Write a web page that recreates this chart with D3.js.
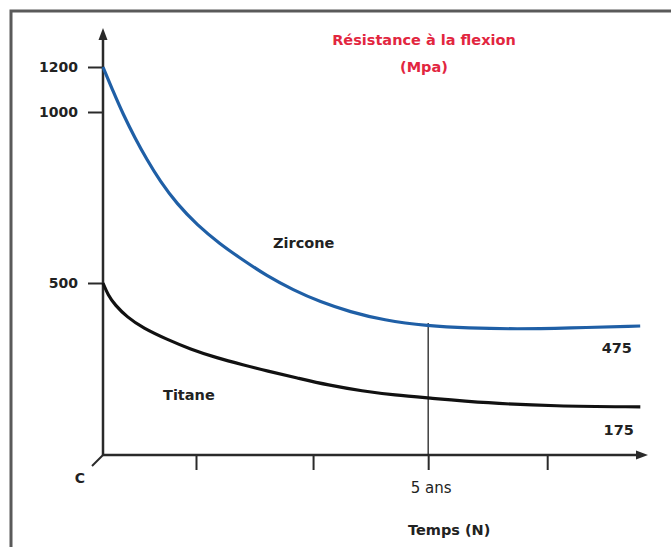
<!DOCTYPE html>
<html>
<head>
<meta charset="utf-8">
<script src="https://cdn.jsdelivr.net/npm/d3@7"></script>
<style>
  body { margin: 0; background: #fff; }
  text { font-family: "DejaVu Sans", sans-serif; }
</style>
</head>
<body>
<svg id="chart" width="671" height="547"></svg>
<script>
'use strict';

// temps en années
const zirconeYears = [0, 0.154, 0.308, 0.492, 0.677, 0.877, 1.138, 1.446, 1.8, 2.108, 2.523, 2.923, 3.338, 3.8, 4.308, 5, 5.6, 6.37, 7.14, 8.26];
const zirconeValues = [1200, 1093, 994, 924, 860, 798, 731, 670, 614, 573, 520, 480, 445, 416, 392, 375, 369, 366, 369, 375];

const titaneYears = [0, 0.077, 0.185, 0.369, 0.615, 0.985, 1.338, 1.754, 2.154, 2.523, 2.985, 3.462, 3.985, 4.492, 5, 5.908, 6.923, 8.262];
const titaneValues = [500, 465, 436, 401, 369, 336, 308, 282, 262, 244, 224, 203, 186, 174, 166, 151, 142, 140];

const yTicks = [500, 1000, 1200];
const xTicks = [1.43, 3.23, 5, 6.83];
const xTickLabels = { 5: "5 ans" };
const endLabels = ["475", "175"];

const svg = d3.select("#chart");

// l'axe vertical est compressé au dessus de 1000
const y = d3.scaleLinear()
   .domain([0, 500, 1000, 1200, 1373])
   .range([455, 283, 112, 67, 28]);

const x = d3.scaleLinear()
   .domain([0, 8.38])
   .range([103, 648]);

// cadre
svg.append("path")
   .attr("d", "M11,547 V11 H671")
   .style("fill", "none")
   .style("stroke", "#5a5a5a")
   .style("stroke-width", 3);

const ink = "#2a2a2a";

// axe Y
svg.append("line")
   .attr("x1", x(0)).attr("x2", x(0))
   .attr("y1", y(0)).attr("y2", y(1373) + 10)
   .style("stroke", ink).style("stroke-width", 2.5);
svg.append("path")
   .attr("d", `M${x(0)},${y(1373)} l-4.5,12 h9 Z`)
   .style("fill", ink);

const yAxis = svg.append("g")
   .attr("transform", `translate(${x(0)},0)`)
   .call(d3.axisLeft(y).tickValues(yTicks).tickSize(15).tickPadding(10).tickFormat(d3.format("d")));
yAxis.select(".domain").remove();
yAxis.selectAll(".tick line").style("stroke", ink).style("stroke-width", 2);
yAxis.selectAll(".tick text")
   .style("font-family", "DejaVu Sans")
   .style("font-size", "14px")
   .style("font-weight", "bold")
   .style("fill", "#222");

// axe X
svg.append("line")
   .attr("x1", x(0)).attr("x2", x(8.38) - 10)
   .attr("y1", y(0)).attr("y2", y(0))
   .style("stroke", ink).style("stroke-width", 2.5);
svg.append("path")
   .attr("d", `M${x(8.38)},${y(0)} l-12,-4.5 v9 Z`)
   .style("fill", ink);

const xAxis = svg.append("g")
   .attr("transform", `translate(0,${y(0)})`)
   .call(d3.axisBottom(x).tickValues(xTicks).tickSize(15).tickFormat(""));
xAxis.select(".domain").remove();
xAxis.selectAll(".tick line").style("stroke", ink).style("stroke-width", 2);

svg.selectAll(".xlab")
   .data(xTicks.filter(d => xTickLabels[d]))
   .enter()
   .append("text")
   .attr("class", "xlab")
   .attr("x", d => x(d) + 3)
   .attr("y", y(0) + 38)
   .style("text-anchor", "middle")
   .style("font-size", "15px")
   .style("fill", "#222")
   .text(d => xTickLabels[d]);

// petit trait à l'origine
svg.append("line")
   .attr("x1", x(0)).attr("y1", y(0))
   .attr("x2", x(0) - 11).attr("y2", y(0) + 11)
   .style("stroke", ink).style("stroke-width", 2);
svg.append("text")
   .attr("x", x(0) - 23).attr("y", y(0) + 28)
   .style("text-anchor", "middle")
   .style("font-size", "14px")
   .style("font-weight", "bold")
   .style("fill", "#222")
   .text("C");

// repère 5 ans
const z5 = zirconeValues[zirconeYears.indexOf(5)];
svg.append("line")
   .attr("x1", x(5)).attr("x2", x(5))
   .attr("y1", y(0)).attr("y2", y(z5) - 3)
   .style("stroke", "#222").style("stroke-width", 1.3);

// courbes
const line = d3.line()
   .x(d => x(d[0]))
   .y(d => y(d[1]))
   .curve(d3.curveBasis);

svg.append("path")
   .datum(d3.zip(titaneYears, titaneValues))
   .attr("d", line)
   .style("fill", "none")
   .style("stroke", "#111")
   .style("stroke-width", 3.2);

svg.append("path")
   .datum(d3.zip(zirconeYears, zirconeValues))
   .attr("d", line)
   .style("fill", "none")
   .style("stroke", "#1f5fa6")
   .style("stroke-width", 3.2);

// titres et annotations
const bold = sel => sel
   .style("font-size", "14.5px")
   .style("font-weight", "bold")
   .style("fill", "#222");

svg.append("text").attr("x", 273).attr("y", 248).call(bold).text("Zircone");
svg.append("text").attr("x", 163).attr("y", 400).call(bold).text("Titane");

const lastZ = zirconeValues[zirconeValues.length - 1];
const lastT = titaneValues[titaneValues.length - 1];
svg.append("text").attr("x", x(7.9)).attr("y", y(lastZ) + 27)
   .style("text-anchor", "middle").call(bold).text(endLabels[0]);
svg.append("text").attr("x", x(7.93)).attr("y", y(lastT) + 28)
   .style("text-anchor", "middle").call(bold).text(endLabels[1]);

svg.append("text").attr("x", 408).attr("y", 535).call(bold).text("Temps (N)");

svg.append("text").attr("x", 424).attr("y", 45)
   .style("text-anchor", "middle").call(bold).style("fill", "#e2263f")
   .text("Résistance à la flexion");
svg.append("text").attr("x", 424).attr("y", 72)
   .style("text-anchor", "middle").call(bold).style("fill", "#e2263f")
   .text("(Mpa)");
</script>
</body>
</html>
